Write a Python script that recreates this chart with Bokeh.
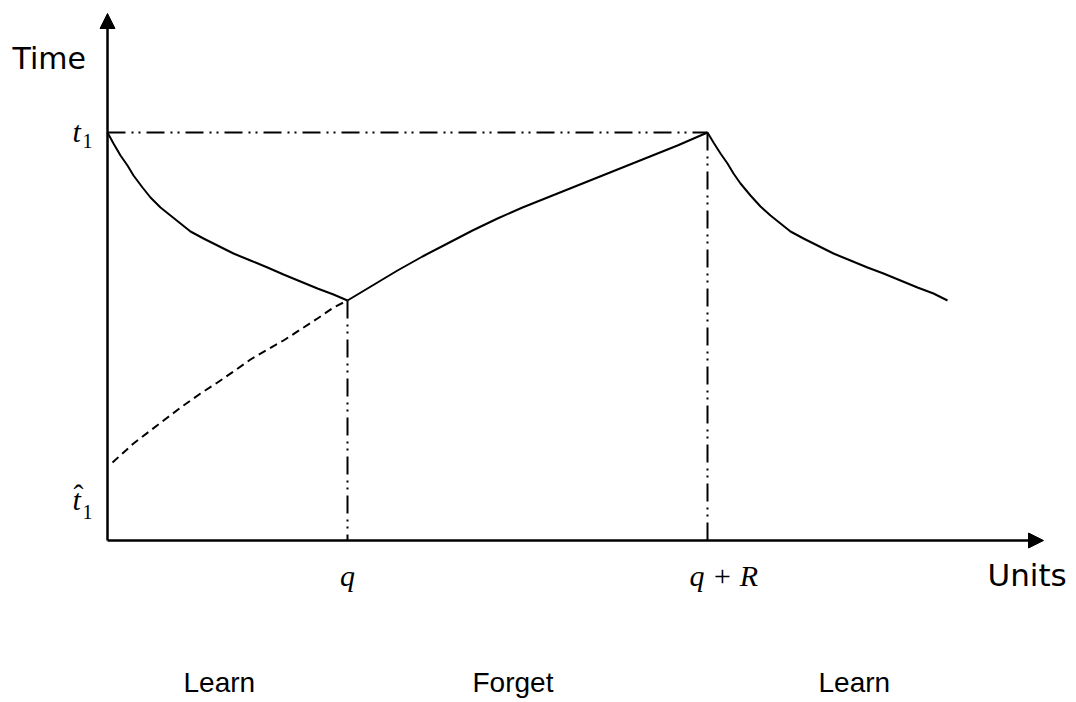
from bokeh.plotting import figure
from bokeh.models import Range1d, Arrow, NormalHead
from bokeh.core.properties import value
from bokeh.embed import file_html
from bokeh.resources import INLINE

# ---- data (in drawing units, origin at the axes' corner) ----
t1 = 408
q = 240
q_plus_r = 600
x_axis_end = 936
y_axis_end = 527

learn1_x = [0, 6, 13, 20, 26, 35, 43, 53, 63, 73, 83, 96, 110, 126, 143, 160, 176, 193, 210, 226, 240]
learn1_y = [408, 397, 385, 375, 365, 353, 343, 333, 325, 317, 309, 302, 295, 287, 280, 273, 266, 259, 252, 246, 240]
forget_x = [240, 265, 290, 315, 340, 365, 390, 415, 440, 465, 490, 515, 540, 570, 600]
forget_y = [240, 255, 270, 284, 297, 310, 322, 333, 343, 353, 363, 373, 383, 395, 408]
learn2_x = [600, 606, 613, 620, 626, 633, 643, 653, 663, 673, 683, 696, 710, 726, 743, 760, 776, 793, 810, 826, 840]
learn2_y = [408, 398, 387, 377, 367, 357, 345, 334, 325, 317, 309, 302, 295, 287, 280, 273, 267, 260, 253, 247, 240]
dashed_x = [5, 26, 43, 60, 76, 93, 110, 126, 143, 160, 176, 193, 210, 226, 240]
dashed_y = [78, 97, 110, 123, 135, 147, 158, 169, 181, 191, 200, 211, 222, 233, 240]

phase_labels = ["Learn", "Forget", "Learn"]
phase_x = [76, 365, 711]
phase_y = [-142, -142, -142]

p = figure(width=1076, height=702, x_range=Range1d(-107, 969), y_range=Range1d(-162, 540),
           output_backend="svg", toolbar_location=None, min_border=0,
           x_axis_type=None, y_axis_type=None)
p.grid.visible = False
p.outline_line_color = None
p.background_fill_color = "white"

# axes with arrows
p.add_layout(Arrow(x_start=0, y_start=0, x_end=0, y_end=y_axis_end, line_width=2.5, line_color="black",
                   end=NormalHead(size=15, fill_color="black", line_color="black", line_width=1)))
p.add_layout(Arrow(x_start=0, y_start=0, x_end=x_axis_end, y_end=0, line_width=2.5, line_color="black",
                   end=NormalHead(size=15, fill_color="black", line_color="black", line_width=1)))

dd = "18 6 2 5 2 6"
p.line([0, q_plus_r], [t1, t1], line_color="black", line_width=2, line_dash=dd)
p.line([q, q], [learn1_y[-1], 0], line_color="black", line_width=2, line_dash=dd)
p.line([q_plus_r, q_plus_r], [t1, 0], line_color="black", line_width=2, line_dash=dd)

p.line(learn1_x, learn1_y, line_color="black", line_width=2)
p.line(forget_x, forget_y, line_color="black", line_width=2)
p.line(learn2_x, learn2_y, line_color="black", line_width=2)
p.line(dashed_x, dashed_y, line_color="black", line_width=2, line_dash="8 5")

sans = value("DejaVu Sans")
serif = value("Liberation Serif")
p.text(x=[-95], y=[482], text=["Time"], text_font=sans, text_font_size="30px",
       text_baseline="alphabetic", text_align="left", text_color="black")
p.text(x=[880], y=[-34], text=["Units"], text_font=sans, text_font_size="31px",
       text_baseline="alphabetic", text_align="left", text_color="black")

# math labels
p.text(x=[-35, -35], y=[409, 41], text=["t", "t"], text_font=serif, text_font_size="30px",
       text_font_style="italic", text_baseline="alphabetic", text_align="left", text_color="black")
p.text(x=[-25, -25], y=[400, 29], text=["1", "1"], text_font=serif, text_font_size="20px",
       text_baseline="alphabetic", text_align="left", text_color="black")
p.text(x=[-34], y=[46], text=["\u02c6"], text_font=serif, text_font_size="30px",
       text_baseline="alphabetic", text_align="left", text_color="black")
p.text(x=[q], y=[-35], text=["q"], text_font=serif, text_font_size="30px", text_font_style="italic",
       text_baseline="alphabetic", text_align="center", text_color="black")
p.text(x=[q_plus_r - 18], y=[-35], text=["q + R"], text_font=serif, text_font_size="30px",
       text_font_style="italic", text_baseline="alphabetic", text_align="left", text_color="black")

p.text(x=phase_x, y=phase_y, text=phase_labels, text_font=value("Liberation Sans"),
       text_font_size="28px", text_baseline="alphabetic", text_align="left", text_color="black")

open("out.html", "w").write(file_html(p, INLINE))
